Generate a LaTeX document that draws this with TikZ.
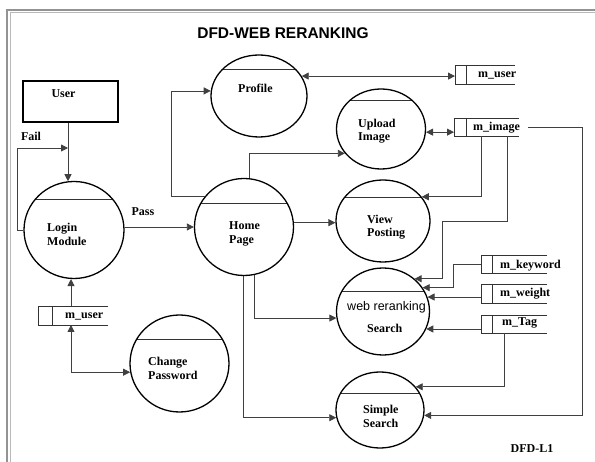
\documentclass[tikz,border=0pt]{standalone}
\usepackage{fontspec}
\setmainfont{Liberation Serif}
\newfontfamily\sansf{Liberation Sans}
\usetikzlibrary{arrows.meta,shapes.geometric,calc}
\begin{document}
\begin{tikzpicture}[x=1pt,y=-1pt,
  proc/.style={ellipse, draw=black, line width=1.3pt, inner sep=0pt},
  chord/.style={path picture={\draw[line width=0.8pt, black!80] ([yshift=#1]path picture bounding box.west) -- ([yshift=#1]path picture bounding box.east);}},
  datastore/.style={rectangle, inner sep=0pt, outer sep=0pt},
  sline/.style={line width=0.9pt, black!80},
  arr/.style={-{Triangle[length=7pt,width=7pt]}, line width=0.8pt, draw=black!75},
  darr/.style={{Triangle[length=7pt,width=7pt]}-{Triangle[length=7pt,width=7pt]}, line width=0.8pt, draw=black!75},
  lbl/.style={font=\bfseries\fontsize{12}{13.5}\selectfont, inner sep=0pt, align=left}
]
\useasboundingbox (0,0) rectangle (595,462);
\begin{scope}
\clip (0,0) rectangle (595,462);
\draw[gray!85, line width=1.3pt] (7,470) -- (7,10) -- (600,10);
\draw[gray!55, line width=1pt] (10.5,470) -- (10.5,13) -- (600,13);
\end{scope}

% title
\node[font=\sansf\bfseries\fontsize{15.5}{18}\selectfont, inner sep=0pt] (title) at (283,33) {DFD-WEB RERANKING};

% external entity
\node[draw, line width=1.3pt, minimum width=95pt, minimum height=41pt, inner sep=0pt] (user) at (70.5,101.5) {};
\node[lbl] (userT) at (63.5,94) {User};

% processes
\node[proc, minimum width=100pt, minimum height=97pt, chord=31pt] (login) at (74,230) {};
\node[proc, minimum width=99pt, minimum height=97pt, chord=24pt] (home) at (244,227) {};
\node[proc, minimum width=96pt, minimum height=82pt, chord=27pt] (profile) at (259,96) {};
\node[proc, minimum width=89pt, minimum height=80pt, chord=29pt] (upload) at (381,129) {};
\node[proc, minimum width=94pt, minimum height=82pt, chord=24pt] (view) at (383,221) {};
\node[proc, minimum width=93pt, minimum height=87pt, chord=20.5pt] (web) at (383,311.5) {};
\node[proc, minimum width=88pt, minimum height=76pt, chord=17pt] (simple) at (380,410) {};
\node[proc, minimum width=99pt, minimum height=97pt, chord=24.5pt] (chpw) at (179.5,363.5) {};

\node[lbl, anchor=west] (loginT) at (47,234.5) {Login\\Module};
\node[lbl, anchor=west] (homeT) at (229,234) {Home\\Page};
\node[lbl, anchor=west] (profileT) at (238,88) {Profile};
\node[lbl, anchor=west] (uploadT) at (358,131) {Upload\\Image};
\node[lbl, anchor=west] (viewT) at (367,227) {View\\Posting};
\node[font=\sansf\fontsize{12.5}{14}\selectfont, inner sep=0pt] (webT1) at (386.5,307) {web reranking};
\node[lbl, anchor=west] (webT2) at (367,328) {Search};
\node[lbl, anchor=west] (simpleT) at (363,416.5) {Simple\\Search};
\node[lbl, anchor=west] (chpwT) at (148,368.5) {Change\\Password};

% data stores
\node[datastore, minimum width=60pt, minimum height=19pt] (muserT) at (485,74.5) {};
\node[datastore, minimum width=65pt, minimum height=18pt] (mimage) at (486.5,127) {};
\node[datastore, minimum width=66pt, minimum height=18pt] (mkeyword) at (514,264) {};
\node[datastore, minimum width=66pt, minimum height=19pt] (mweight) at (514,293.5) {};
\node[datastore, minimum width=66pt, minimum height=18pt] (mtag) at (514,324) {};
\node[datastore, minimum width=70pt, minimum height=19pt] (muserB) at (73,315.5) {};

\foreach \s/\d in {muserT/11, mimage/12, mkeyword/11, mweight/11, mtag/11, muserB/14}{
  \draw[sline] (\s.north east) -- (\s.north west) -- (\s.south west) -- (\s.south east);
  \draw[sline] ([xshift=\d pt]\s.north west) -- ([xshift=\d pt]\s.south west);
}
\node[lbl, anchor=west] (muserTT) at (478,75) {m\_user};
\node[lbl, anchor=west] (mimageT) at (473,128) {m\_image};
\node[lbl, anchor=west] (mkeywordT) at (500,265.5) {m\_keyword};
\node[lbl, anchor=west] (mweightT) at (500,293.5) {m\_weight};
\node[lbl, anchor=west] (mtagT) at (502,323) {m\_Tag};
\node[lbl, anchor=west] (muserBT) at (65,316) {m\_user};

% other labels
\node[lbl] (failT) at (31,136) {Fail};
\node[lbl] (passT) at (143,212) {Pass};
\node[lbl] (dfdT) at (532,449) {DFD-L1};

% helper coordinates
\coordinate (failx) at (17,0);
\coordinate (failend) at (68,148);
\coordinate (hpx) at (171,0);
\coordinate (k1) at (442,221);
\coordinate (rc) at (582,0);
\coordinate (kx) at (453,0);

% connectors
\draw[arr] ([xshift=-2.5pt]user.south) -- ([xshift=-2.5pt]user.south |- login.97);
\draw[arr] (login.west) -- (login.west -| failx) |- (failend);
\draw[arr] (home.west -| login.east) -- (home.west);
\draw[arr] (home.142) -- (home.142 -| hpx) -- (hpx |- profile.174) -- (profile.174);
\draw[arr] (home.84) |- (upload.214);
\draw[arr] (view.182 -| home.east) -- (view.182);
\draw[arr] (home.282) |- (web.188);
\draw[arr] (home.269) |- (simple.190);
\draw[darr] (profile.25) -- (profile.25 -| muserT.west);
\draw[darr] (upload.356) -- (upload.356 -| mimage.west);
\draw[arr] ([xshift=-5.5pt]mimage.south) |- (view.32);
\draw[arr] ([xshift=20.5pt]mimage.south) |- (k1) |- (web.46);
\draw[arr] ([xshift=9pt]mimage.east) -- (mimage.east -| rc) |- (simple.353);
\draw[arr] (mkeyword.west) -- (mkeyword.west -| kx) |- (web.31);
\draw[arr] (web.18 -| mweight.west) -- (web.18);
\draw[arr] (web.338 -| mtag.west) -- (web.338);
\draw[arr] ([xshift=-10pt]mtag.south) |- (simple.33);
\draw[arr] ([xshift=-2pt]muserB.north) -- ([xshift=-2pt]muserB.north |- login.266);
\draw[darr] ([xshift=-2pt]muserB.south) |- (chpw.190);
\end{tikzpicture}
\end{document}
